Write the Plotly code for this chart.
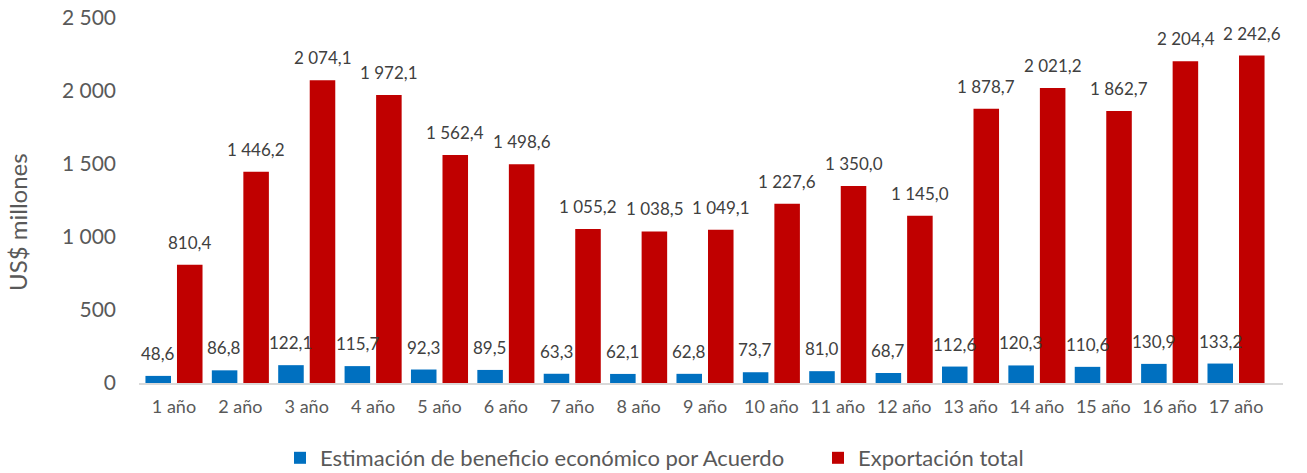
import plotly.graph_objects as go

categories = [f"{i} año" for i in range(1, 18)]
beneficio = [48.6, 86.8, 122.1, 115.7, 92.3, 89.5, 63.3, 62.1, 62.8, 73.7, 81.0, 68.7, 112.6, 120.3, 110.6, 130.9, 133.2]
exportacion = [810.4, 1446.2, 2074.1, 1972.1, 1562.4, 1498.6, 1055.2, 1038.5, 1049.1, 1227.6, 1350.0, 1145.0, 1878.7, 2021.2, 1862.7, 2204.4, 2242.6]
series_names = ["Estimación de beneficio económico por Acuerdo", "Exportación total"]
colors = ["#0070C0", "#C00000"]
y_ticks = [0, 500, 1000, 1500, 2000, 2500]
y_title = "US$ millones"

FONT = "Lato"
W, H = 1307, 473
ML, MR, MT, MB = 139, 24, 18, 90
BARGAP, GROUPGAP = 0.05, 0.19
PW, PH = W - ML - MR, H - MT - MB


def fmt(v):
    s = f"{v:,.1f}"
    return s.replace(",", " ").replace(".", ",")


fig = go.Figure()
for name, vals, col in zip(series_names, [beneficio, exportacion], colors):
    fig.add_trace(go.Bar(x=categories, y=vals, name=name, marker=dict(color=col, line=dict(width=0))))

# value labels, anchored to each bar through the data axes
cat_px = PW / len(categories)
off = cat_px * (1 - BARGAP) / 4
annotations = []
for k, vals in enumerate([beneficio, exportacion]):
    for c, v in zip(categories, vals):
        annotations.append(dict(
            x=c, y=v, xref="x", yref="y", text=fmt(v), showarrow=False,
            xanchor="center", yanchor="bottom", xshift=(-off if k == 0 else off), yshift=10,
            font=dict(family=FONT, size=17, color="#404040"),
        ))

# y-axis title
annotations.append(dict(
    x=(18 - ML) / PW, y=(MT + PH - 222) / PH, xref="paper", yref="paper",
    text=y_title, textangle=-90, showarrow=False, xanchor="center", yanchor="middle",
    font=dict(family=FONT, size=24, color="#595959"),
))

fig.update_layout(
    width=W, height=H,
    margin=dict(l=ML, r=MR, t=MT, b=MB, autoexpand=False),
    paper_bgcolor="white", plot_bgcolor="white",
    separators=", ",
    barmode="group", bargap=BARGAP, bargroupgap=GROUPGAP,
    font=dict(family=FONT, color="#595959"),
    showlegend=True,
    annotations=annotations,
    legend=dict(orientation="h", x=(280 - ML) / PW, xanchor="left",
                yref="container", y=(H - 458) / H, yanchor="middle",
                font=dict(family=FONT, size=22, color="#595959"),
                itemwidth=30, tracegroupgap=0, entrywidth=493),
    xaxis=dict(showgrid=False, showline=True, linecolor="#D9D9D9", linewidth=2,
               automargin=False, ticklabelstandoff=6,
               tickfont=dict(family=FONT, size=18, color="#595959"), ticks=""),
    yaxis=dict(range=[0, 2500], tickvals=y_ticks, tickformat=",.0f", separatethousands=True,
               showgrid=False, zeroline=False, showline=False, automargin=False,
               ticklabeloverflow="allow",
               tickfont=dict(family=FONT, size=21, color="#595959"),
               ticklabelstandoff=22),
)

fig.write_html("out.html", config={"displayModeBar": False},
               post_script="document.body.style.margin='0';document.body.style.overflow='hidden';")
